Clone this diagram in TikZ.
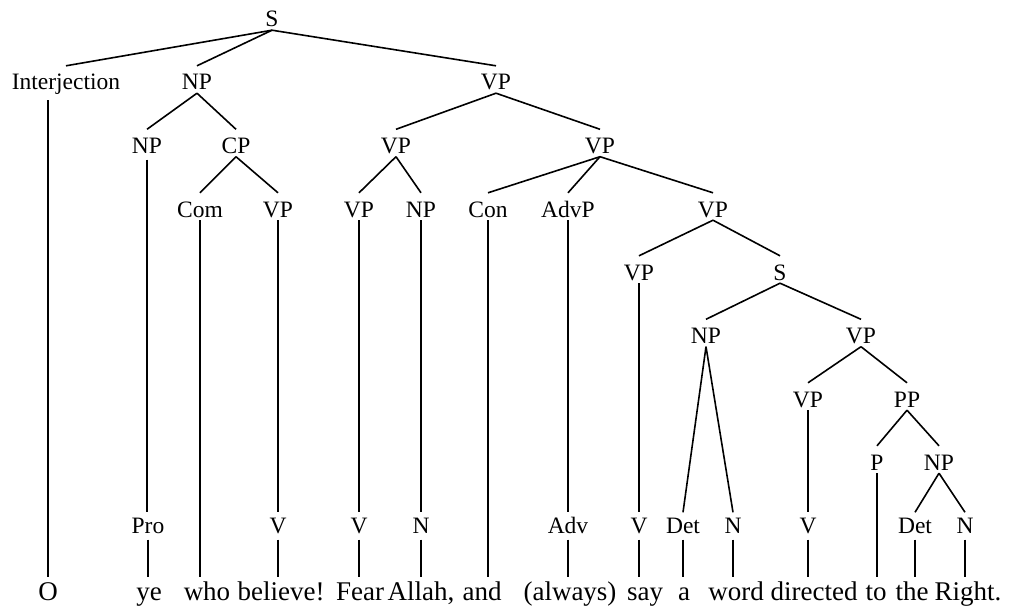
\documentclass[tikz,border=0pt]{standalone}
\usepackage{fontspec}
\setmainfont{Liberation Serif}
\begin{document}
\begin{tikzpicture}[x=1pt,y=-1pt,
  lab/.style={anchor=base, inner sep=0pt, font=\fontsize{23.5}{24}\selectfont, text height=24pt, text depth=3pt},
  pre/.style={lab, text height=21pt, text depth=6pt},
  wrd/.style={anchor=base, inner sep=0pt, font=\fontsize{27}{28}\selectfont, text height=23pt, text depth=0pt},
  edge/.style={line width=1.6pt}]
\useasboundingbox (0,0) rectangle (1011,607);
% levels
\def\La{27}\def\Lb{90}\def\Lc{153.5}\def\Ld{217}\def\Le{280}\def\Lf{343.5}\def\Lg{407}\def\Lh{470}\def\Li{533.5}\def\Lw{600}
% phrase nodes
\node[lab] (S0) at (272,\La) {S};
\node[lab, text depth=10pt] (IJ) at (66,\Lb) {Interjection};
\node[lab] (NP1) at (197,\Lb) {NP};
\node[lab] (VP1) at (496,\Lb) {VP};
\node[lab, text depth=6pt] (NP2) at (147,\Lc) {NP};
\node[lab] (CP) at (236,\Lc) {CP};
\node[lab] (VPa) at (396,\Lc) {VP};
\node[lab] (VPb) at (600,\Lc) {VP};
\node[lab] (Com) at (200,\Ld) {Com};
\node[lab] (VPc) at (278,\Ld) {VP};
\node[lab] (VPd) at (359,\Ld) {VP};
\node[lab] (NPd) at (421,\Ld) {NP};
\node[lab] (Con) at (488,\Ld) {Con};
\node[lab] (AdvP) at (568,\Ld) {AdvP};
\node[lab] (VPe) at (713,\Ld) {VP};
\node[lab] (VPf) at (639,\Le) {VP};
\node[lab] (S2) at (780,\Le) {S};
\node[lab] (NP5) at (706,\Lf) {NP};
\node[lab] (VP5) at (861,\Lf) {VP};
\node[lab] (VP6) at (808,\Lg) {VP};
\node[lab] (PP) at (907,\Lg) {PP};
\node[lab] (P) at (877,\Lh) {P};
\node[lab] (NP7) at (939,\Lh) {NP};
% preterminals
\node[pre] (Pro) at (148,\Li) {Pro};
\node[pre] (V1) at (278,\Li) {V};
\node[pre] (V2) at (359,\Li) {V};
\node[pre] (N1) at (421,\Li) {N};
\node[pre] (Adv) at (568,\Li) {Adv};
\node[pre] (V3) at (639,\Li) {V};
\node[pre] (Det1) at (683,\Li) {Det};
\node[pre] (N2) at (733,\Li) {N};
\node[pre] (V4) at (808,\Li) {V};
\node[pre] (Det2) at (915,\Li) {Det};
\node[pre] (N3) at (965,\Li) {N};
% words
\node[wrd] (wO) at (48,\Lw) {O};
\node[wrd] (wye) at (149,\Lw) {ye};
\node[wrd] (wwho) at (207,\Lw) {who};
\node[wrd] (wbel) at (281,\Lw) {believe!};
\node[wrd] (wfear) at (360,\Lw) {Fear};
\node[wrd] (wallah) at (421,\Lw) {Allah,};
\node[wrd] (wand) at (482,\Lw) {and};
\node[wrd] (walw) at (570,\Lw) {(always)};
\node[wrd] (wsay) at (645,\Lw) {say};
\node[wrd] (wa) at (684,\Lw) {a};
\node[wrd] (wword) at (736,\Lw) {word};
\node[wrd] (wdir) at (814,\Lw) {directed};
\node[wrd] (wto) at (876,\Lw) {to};
\node[wrd] (wthe) at (912,\Lw) {the};
\node[wrd] (wright) at (968,\Lw) {Right.};
% diagonal edges
\foreach \p/\c in {S0/IJ,S0/NP1,S0/VP1,NP1/NP2,NP1/CP,VP1/VPa,VP1/VPb,CP/Com,CP/VPc,
  VPa/VPd,VPa/NPd,VPb/Con,VPb/AdvP,VPb/VPe,VPe/VPf,VPe/S2,S2/NP5,S2/VP5,NP5/Det1,NP5/N2,
  VP5/VP6,VP5/PP,PP/P,PP/NP7,NP7/Det2,NP7/N3}
  \draw[edge] (\p.south) -- (\c.north);
% vertical edges to preterminals
\foreach \p/\c in {NP2/Pro,VPc/V1,VPd/V2,NPd/N1,AdvP/Adv,VPf/V3,VP6/V4}
  \draw[edge] (\p.south) -- (\p.south |- \c.north);
% vertical edges to words
\foreach \p/\w in {Pro/wye,V1/wbel,V2/wfear,N1/wallah,Adv/walw,V3/wsay,Det1/wa,N2/wword,V4/wdir,Det2/wthe,N3/wright,Com/wwho,Con/wand,P/wto}
  \draw[edge] (\p.south) -- (\p.south |- \w.north);
\draw[edge] (IJ.south -| wO) -- (wO.north);
\end{tikzpicture}
\end{document}
